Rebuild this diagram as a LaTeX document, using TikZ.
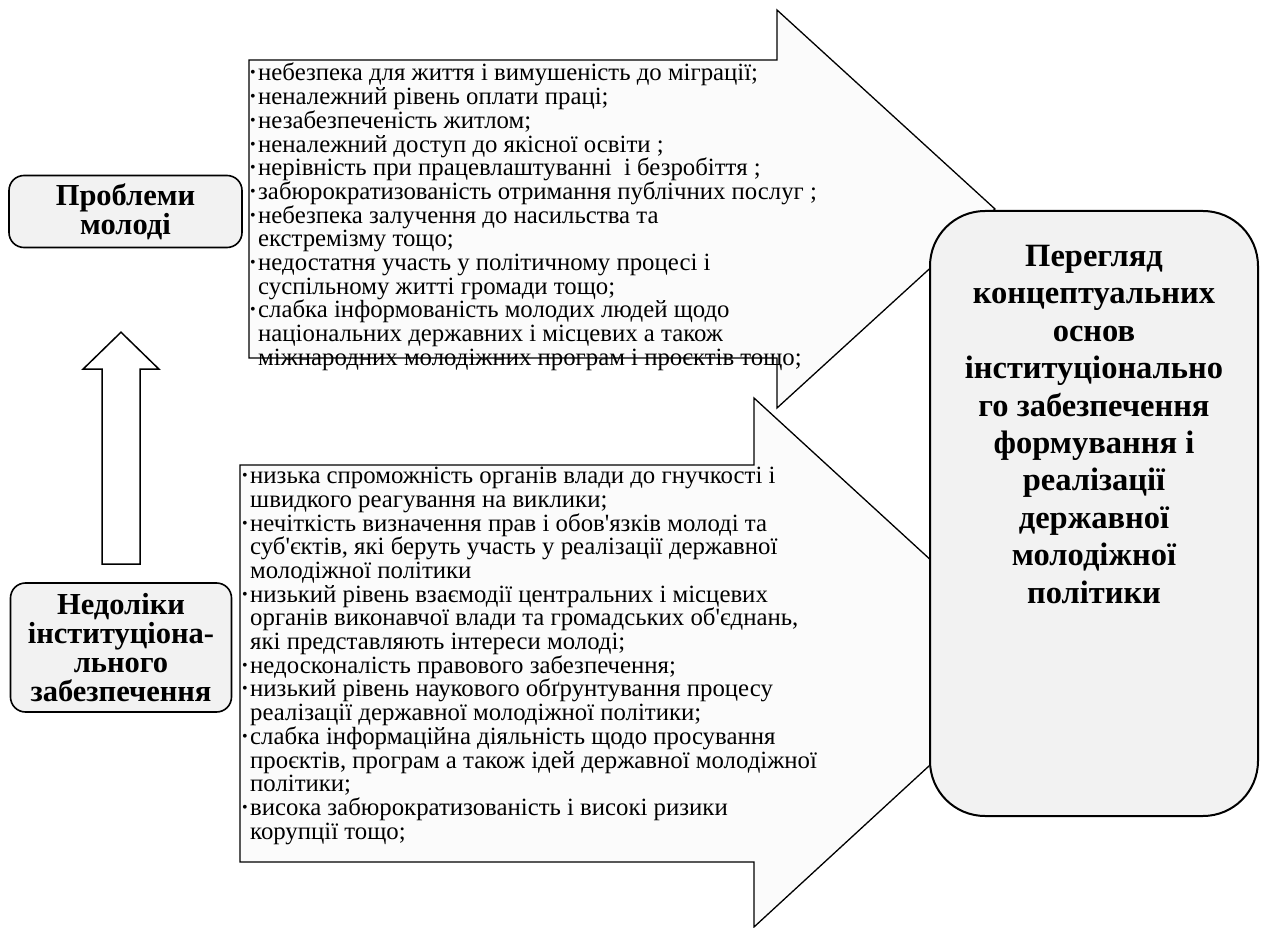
\documentclass[tikz,border=0pt]{standalone}
\usepackage{fontspec}
\setmainfont{Liberation Serif}
\newfontfamily\narrowfont{Liberation Serif}
\usetikzlibrary{calc}
\definecolor{boxgray}{HTML}{F2F2F2}
\definecolor{arrowfill}{HTML}{FBFBFB}
\newcommand{\bl}{\makebox[8pt][l]{\raisebox{3pt}{\fontsize{16}{16}\selectfont •}}}
\newcommand{\cl}{\hspace*{8pt}}
\tikzset{
  bigarrow/.style={draw=black, line width=1.3pt, fill=arrowfill, line join=miter},
  uparrow/.style={draw=black, line width=1.5pt, fill=white},
  lbox/.style={draw=black, line width=1.6pt, rounded corners=15pt, fill=boxgray,
    font=\bfseries\fontsize{30.5}{29}\selectfont, align=center, inner sep=0pt},
  rbox/.style={draw=black, line width=2pt, rounded corners=55pt, fill=boxgray, inner sep=0pt},
  rtext/.style={font=\bfseries\fontsize{32.5}{37.4}\selectfont, align=center, inner sep=0pt},
  atext/.style={font=\narrowfont\fontsize{24.8}{23.7}\selectfont, align=left, inner sep=0pt, anchor=north west}
}
\begin{document}
\begin{tikzpicture}[x=1pt,y=-1pt]
\useasboundingbox (0,0) rectangle (1262,928);
% big arrows
\draw[bigarrow] (249,60) -- (777,60) -- (777,10) -- (995,209) -- (777,408) -- (777,358) -- (249,358) -- cycle;
\draw[bigarrow] (240,465) -- (754,465) -- (754,398) -- (1042,662) -- (754,927) -- (754,862) -- (240,862) -- cycle;
% arrow texts
\node[atext] (ptext) at (250,63) {\bl небезпека для життя і вимушеність до міграції;\\
\bl неналежний рівень оплати праці;\\
\bl незабезпеченість житлом;\\
\bl неналежний доступ до якісної освіти ;\\
\bl нерівність при працевлаштуванні~~і безробіття ;\\
\bl забюрократизованість отримання публічних послуг ;\\
\bl небезпека залучення до насильства та\\
\cl екстремізму тощо;\\
\bl недостатня участь у політичному процесі і\\
\cl суспільному житті громади тощо;\\
\bl слабка інформованість молодих людей щодо\\
\cl національних державних і місцевих а також\\
\cl міжнародних молодіжних програм і проєктів тощо;};
\node[atext] (ntext) at (242,467) {\bl низька спроможність органів влади до гнучкості і\\
\cl швидкого реагування на виклики;\\
\bl нечіткість визначення прав і обов'язків молоді та\\
\cl суб'єктів, які беруть участь у реалізації державної\\
\cl молодіжної політики\\
\bl низький рівень взаємодії центральних і місцевих\\
\cl органів виконавчої влади та громадських об'єднань,\\
\cl які представляють інтереси молоді;\\
\bl недосконалість правового забезпечення;\\
\bl низький рівень наукового обґрунтування процесу\\
\cl реалізації державної молодіжної політики;\\
\bl слабка інформаційна діяльність щодо просування\\
\cl проєктів, програм а також ідей державної молодіжної\\
\cl політики;\\
\bl висока забюрократизованість і високі ризики\\
\cl корупції тощо;};
% right box
\node[rbox, minimum width=328pt, minimum height=605pt, anchor=north west] (goal) at (929,210) {};
\node[rtext, anchor=north] (goaltext) at ([yshift=-35pt]goal.north) {Перегляд\\концептуальних\\основ\\інституціонально\\го забезпечення\\формування і\\реалізації\\державної\\молодіжної\\політики};
% left boxes
\node[lbox, minimum width=233pt, minimum height=72pt] (prob) at (125.5,211.5) {Проблеми\\молоді};
\node[lbox, minimum width=221pt, minimum height=129pt] (ned) at (121,647.5) {Недоліки\\інституціона-\\льного\\забезпечення};
% up arrow
\coordinate (ab) at ($(ned.north)+(0,-18)$);
\coordinate (at) at ($(ned.north)+(0,-250)$);
\draw[uparrow] ($(ab)+(-19,0)$) -- ($(at)+(-19,37)$) -- ($(at)+(-38,37)$) -- (at) -- ($(at)+(38,37)$) -- ($(at)+(19,37)$) -- ($(ab)+(19,0)$) -- cycle;
\end{tikzpicture}
\end{document}
